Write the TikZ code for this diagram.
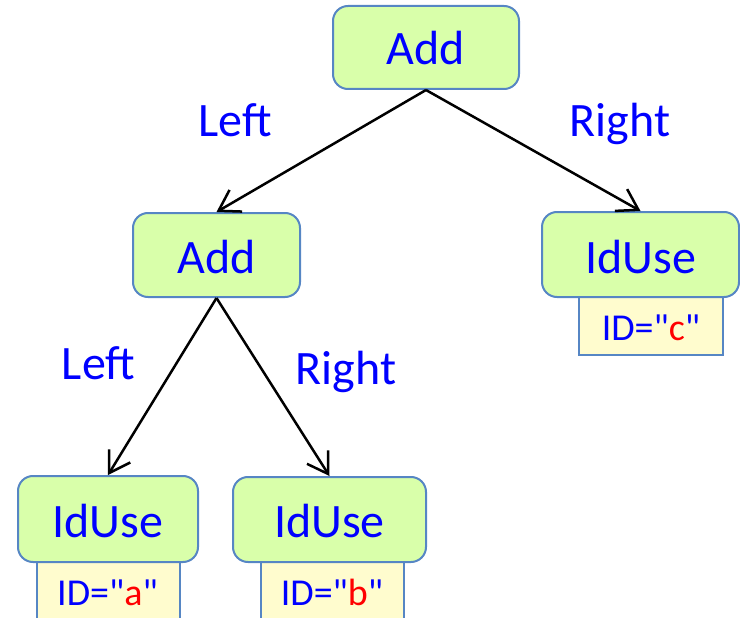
\documentclass[tikz,border=0pt]{standalone}
\usepackage{fontspec}
\setmainfont{Carlito}[Ligatures=TeXOff]
\usetikzlibrary{arrows.meta}
\definecolor{nodegreen}{RGB}{217,255,170}
\definecolor{nodeborder}{RGB}{86,134,196}
\definecolor{idyellow}{RGB}{255,252,206}
\definecolor{txtblue}{RGB}{0,0,255}
\definecolor{txtred}{RGB}{255,0,0}
\tikzset{
  astnode/.style={draw=nodeborder, line width=2pt, fill=nodegreen, rounded corners=15pt,
    inner sep=0pt, text=txtblue, font=\fontsize{48}{56}\selectfont, text depth=0pt},
  idbox/.style={draw=nodeborder, line width=1.6pt, fill=idyellow, inner sep=0pt,
    text=txtblue, font=\fontsize{38}{44}\selectfont, text depth=0pt},
  idtext/.style={text=txtblue, font=\fontsize{38}{44}\selectfont, anchor=base, inner sep=0pt},
  edgelabel/.style={text=txtblue, font=\fontsize{48}{56}\selectfont, anchor=base, inner sep=0pt},
  treeedge/.style={line width=2.5pt, -{Straight Barb[length=20pt,width=25pt,line width=2.5pt]}},
}
\begin{document}
\begin{tikzpicture}[x=1pt,y=-1pt]
\useasboundingbox (0,0) rectangle (740,618);
\clip (0,0) rectangle (740,618);
% ID boxes (behind)
\node[idbox, minimum width=144pt, minimum height=58pt, text height=28pt] (idc) at (651,326) {ID="\textcolor{txtred}{c}"};
\node[idbox, minimum width=143pt, minimum height=66pt] (ida) at (108.5,595) {};
\node[idbox, minimum width=143pt, minimum height=66pt] (idb) at (332.5,595) {};
\node[idtext] (idatext) at (107.5,605) {ID="\textcolor{txtred}{a}"};
\node[idtext] (idbtext) at (332,605) {ID="\textcolor{txtred}{b}"};
% AST nodes
\node[astnode, minimum width=186pt, minimum height=83pt, text height=35pt] (add1) at (426,47.5) {Add};
\node[astnode, minimum width=167pt, minimum height=84pt, text height=36pt] (add2) at (216.5,255) {Add};
\node[astnode, minimum width=197pt, minimum height=85pt, text height=37pt] (idr) at (640.5,254.5) {IdUse};
\node[astnode, minimum width=180pt, minimum height=86pt, text height=36pt] (idl) at (108,519) {IdUse};
\node[astnode, minimum width=193pt, minimum height=85pt, text height=36pt] (idm) at (329.5,519.5) {IdUse};
% edges
\draw[treeedge] (add1.south) -- (add2.north);
\draw[treeedge] (add1.south) -- (idr.north);
\draw[treeedge] (add2.south) -- (idl.north);
\draw[treeedge] (add2.south) -- (idm.north);
% labels
\node[edgelabel] (l1) at (235,137) {Left};
\node[edgelabel] (r1) at (620,137) {Right};
\node[edgelabel] (l2) at (98.5,379) {Left};
\node[edgelabel] (r2) at (346,384) {Right};
\end{tikzpicture}
\end{document}
